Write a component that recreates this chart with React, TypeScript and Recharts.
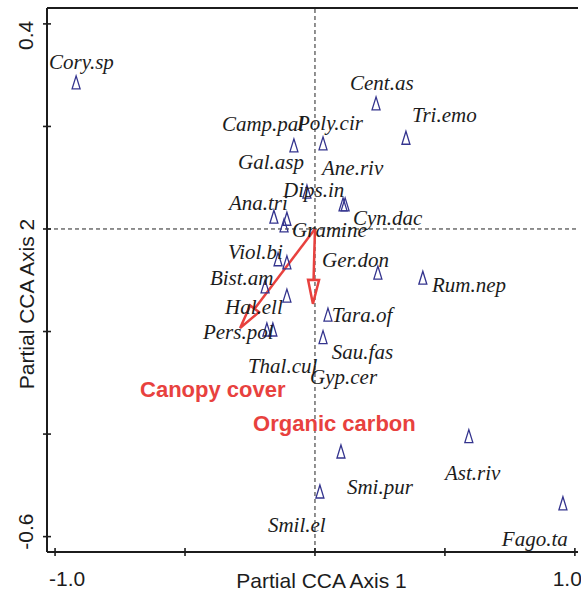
import { ScatterChart, Scatter, XAxis, YAxis, ReferenceLine } from 'recharts'

// species scores (partial CCA axis 1 / axis 2)
const species = [
  'Cory.sp', 'Camp.pal', 'Poly.cir', 'Cent.as', 'Tri.emo', 'Gal.asp', 'Dips.in',
  'Ana.tri', 'Gramine', 'Ane.riv', 'Cyn.dac', 'Viol.bi', 'Gyp.cer', 'Bist.am',
  'Hal.ell', 'Pers.pol', 'Thal.cul', 'Ger.don', 'Rum.nep', 'Tara.of', 'Sau.fas',
  'Smi.pur', 'Ast.riv', 'Smil.el', 'Fago.ta',
]
const axis1 = [
  -0.919, -0.081, 0.031, 0.235, 0.35, -0.108, -0.031,
  -0.158, -0.119, 0.108, 0.116, -0.142, -0.108, -0.192,
  -0.108, -0.185, -0.162, 0.242, 0.415, 0.05, 0.031,
  0.1, 0.592, 0.019, 0.954,
]
const axis2 = [
  0.285, 0.162, 0.166, 0.244, 0.177, 0.019, 0.072,
  0.023, 0.006, 0.047, 0.047, -0.06, -0.066, -0.113,
  -0.131, -0.197, -0.197, -0.086, -0.096, -0.168, -0.212,
  -0.435, -0.405, -0.513, -0.536,
]
// where each species name sits (left edge, middle), in axis units
const labelAxis1 = [
  -1.023, -0.358, -0.069, 0.135, 0.373, -0.296, -0.123,
  -0.331, -0.088, 0.027, 0.146, -0.335, -0.019, -0.404,
  -0.346, -0.431, -0.258, 0.027, 0.45, 0.065, 0.065,
  0.123, 0.5, -0.181, 0.719,
]
const labelAxis2 = [
  0.326, 0.205, 0.207, 0.285, 0.222, 0.131, 0.076,
  0.051, -0.002, 0.119, 0.021, -0.045, -0.288, -0.096,
  -0.152, -0.201, -0.267, -0.06, -0.109, -0.168, -0.24,
  -0.503, -0.476, -0.577, -0.604,
]

// environmental variables (arrows)
const envVars = ['Canopy cover', 'Organic carbon']
const envAxis1 = [-0.288, -0.008]
const envAxis2 = [-0.193, -0.146]
const envLabelAxis1 = [-0.673, -0.238]
const envLabelAxis2 = [-0.314, -0.38]

const xTicks = [-1, -0.5, 0, 0.5, 1]
const yTicks = [0.4, 0.2, 0, -0.2, -0.4, -0.6]
const xDomain = [-1.031, 1.012]
const yDomain = [-0.63, 0.431]

const RED = '#e8413e'
const NAVY = '#34348e'
const INK = '#1c1c1c'
const SANS = '"Liberation Sans", Arial, sans-serif'

const points = species.map((name, i) => ({ name, x: axis1[i], y: axis2[i] }))
const labels = species.map((name, i) => ({ name, x: labelAxis1[i], y: labelAxis2[i] }))
const envLabels = envVars.map((name, i) => ({
  name,
  x: envLabelAxis1[i],
  y: envLabelAxis2[i],
}))

function Triangle(props: any) {
  const { cx, cy } = props
  return (
    <polygon
      points={`${cx},${cy - 7} ${cx - 4},${cy + 6} ${cx + 4},${cy + 6}`}
      fill="none"
      stroke={NAVY}
      strokeWidth={1.3}
    />
  )
}

function SpeciesLabel(props: any) {
  const { cx, cy, payload } = props
  return (
    <text
      x={cx}
      y={cy}
      dominantBaseline="central"
      fontFamily='"Liberation Serif", "Times New Roman", serif'
      fontStyle="italic"
      fontSize={21}
      fill={INK}
    >
      {payload.name}
    </text>
  )
}

function EnvLabel(props: any) {
  const { cx, cy, payload } = props
  return (
    <text
      x={cx}
      y={cy}
      dominantBaseline="central"
      fontFamily={SANS}
      fontWeight="bold"
      fontSize={22}
      fill={RED}
    >
      {payload.name}
    </text>
  )
}

function Arrow(props: any) {
  const { x1, y1, x2, y2 } = props
  const dx = x2 - x1
  const dy = y2 - y1
  const len = Math.hypot(dx, dy) || 1
  const ux = dx / len
  const uy = dy / len
  const head = 24
  const half = 5.5
  const bx = x2 - ux * head
  const by = y2 - uy * head
  const px = -uy * half
  const py = ux * half
  return (
    <g>
      <line x1={x1} y1={y1} x2={bx} y2={by} stroke={RED} strokeWidth={2.5} />
      <polygon
        points={`${x2},${y2} ${bx + px},${by + py} ${bx - px},${by - py}`}
        fill="none"
        stroke={RED}
        strokeWidth={2.5}
        strokeLinejoin="miter"
      />
    </g>
  )
}

function XTick(props: any) {
  const { x, y, payload } = props
  const v = payload.value
  let label = null
  if (v === -1) {
    label = (
      <text x={x - 6} y={y + 26} textAnchor="start" dominantBaseline="central"
        fontFamily={SANS} fontSize={21} fill={INK}>-1.0</text>
    )
  }
  if (v === 1) {
    label = (
      <text x={x + 7} y={y + 26} textAnchor="end" dominantBaseline="central"
        fontFamily={SANS} fontSize={21} fill={INK}>1.0</text>
    )
  }
  return (
    <g>
      <line x1={x} y1={y - 4} x2={x} y2={y + 4} stroke={INK} strokeWidth={1.6} />
      {label}
    </g>
  )
}

function YTick(props: any) {
  const { x, y, payload } = props
  const v = payload.value
  let label = null
  const text = v === 0.4 ? '0.4' : v === -0.6 ? '-0.6' : null
  if (text) {
    const cy = v === 0.4 ? y + 11.5 : y - 5
    label = (
      <text x={26} y={cy} textAnchor="middle" dominantBaseline="central"
        transform={`rotate(-90 26 ${cy})`} fontFamily={SANS} fontSize={21} fill={INK}>
        {text}
      </text>
    )
  }
  return (
    <g>
      <line x1={x - 4} y1={y} x2={x + 4} y2={y} stroke={INK} strokeWidth={1.6} />
      {label}
    </g>
  )
}

export default function App() {
  return (
    <div style={{ position: 'absolute', left: 0, top: 0, background: '#fff' }}>
      <ScatterChart width={581} height={594} margin={{ top: 8, right: 3, bottom: 41, left: 46 }}>
        <XAxis
          type="number"
          dataKey="x"
          domain={xDomain}
          ticks={xTicks}
          allowDataOverflow
          height={1}
          tickSize={0}
          tickMargin={0}
          tickLine={false}
          tick={<XTick />}
          axisLine={{ stroke: INK, strokeWidth: 2 }}
          label={{
            content: (p: any) => (
              <text x={p.viewBox.x + p.viewBox.width / 2 + 9} y={p.viewBox.y + 28}
                textAnchor="middle" dominantBaseline="central" fontFamily={SANS}
                fontSize={21} fill={INK}>Partial CCA Axis 1</text>
            ),
          }}
        />
        <YAxis
          type="number"
          dataKey="y"
          domain={yDomain}
          ticks={yTicks}
          allowDataOverflow
          width={1}
          tickSize={0}
          tickMargin={0}
          tickLine={false}
          tick={<YTick />}
          axisLine={{ stroke: INK, strokeWidth: 2 }}
          label={{
            content: (p: any) => {
              const cy = p.viewBox.y + p.viewBox.height / 2 + 24
              return (
                <text x={26} y={cy} textAnchor="middle" dominantBaseline="central"
                  transform={`rotate(-90 26 ${cy})`} fontFamily={SANS} fontSize={21}
                  fill={INK}>Partial CCA Axis 2</text>
              )
            },
          }}
        />
        <ReferenceLine y={yDomain[1]} stroke={INK} strokeWidth={2} />
        <ReferenceLine x={0} stroke="#222" strokeDasharray="4 3" strokeWidth={1} />
        <ReferenceLine y={0} stroke="#222" strokeDasharray="4 3" strokeWidth={1} />
        <Scatter data={points} shape={Triangle} isAnimationActive={false} />
        <Scatter data={labels} shape={SpeciesLabel} isAnimationActive={false} />
        <Scatter data={envLabels} shape={EnvLabel} isAnimationActive={false} />
        {envVars.map((name, i) => (
          <ReferenceLine
            key={name}
            segment={[
              { x: 0, y: 0 },
              { x: envAxis1[i], y: envAxis2[i] },
            ]}
            shape={Arrow}
            ifOverflow="visible"
          />
        ))}
      </ScatterChart>
    </div>
  )
}
